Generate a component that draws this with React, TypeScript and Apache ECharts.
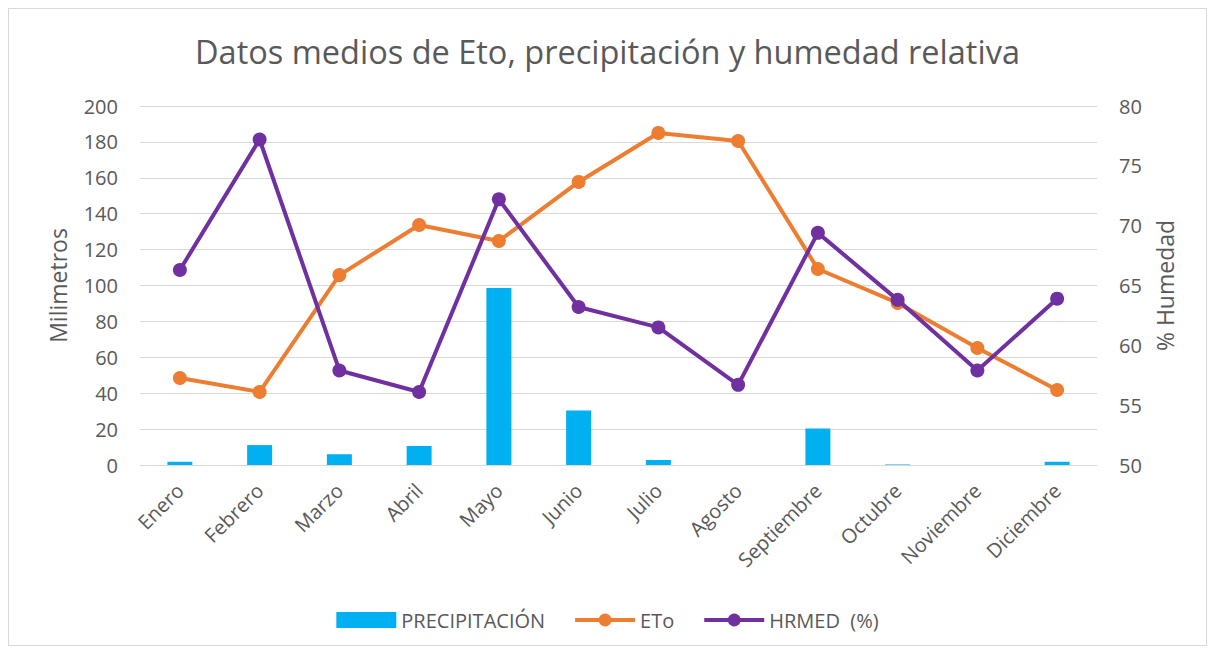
import React, { useEffect, useRef } from "react";
import * as echarts from "echarts";

const months = ["Enero", "Febrero", "Marzo", "Abril", "Mayo", "Junio", "Julio", "Agosto", "Septiembre", "Octubre", "Noviembre", "Diciembre"];
const precipitacion = [1.8, 11.1, 6.0, 10.6, 98.6, 30.4, 2.8, 0, 20.4, 0.3, 0, 1.8];
const eto = [48.5, 40.7, 105.8, 133.7, 124.8, 157.7, 185, 180.5, 109.2, 90.3, 65.2, 41.8];
const hrmed = [66.3, 77.2, 57.9, 56.1, 72.2, 63.2, 61.5, 56.7, 69.4, 63.8, 57.9, 63.9];
const leftTicks = { min: 0, max: 200, interval: 20 };
const rightTicks = { min: 50, max: 80, interval: 5 };

const FONT = "'Open Sans', 'Noto Sans', sans-serif";
const TXT = "#595959";

export default function App() {
  const ref = useRef<HTMLDivElement>(null);
  useEffect(() => {
    if (!ref.current) return;
    const chart = echarts.init(ref.current, null, { renderer: "svg" });
    chart.setOption({
      animation: false,
      backgroundColor: "#fff",
      textStyle: { fontFamily: FONT },
      title: {
        text: "Datos medios de Eto, precipitación y humedad relativa",
        left: "center",
        top: 21,
        textStyle: { fontSize: 32.5, fontWeight: "normal", color: TXT, fontFamily: FONT },
      },
      legend: {
        bottom: 10,
        left: "center",
        itemGap: 28,
        itemWidth: 60,
        itemHeight: 16,
        lineStyle: { width: 4 },
        textStyle: { fontSize: 20, color: TXT, fontFamily: FONT },
        data: [
          { name: "PRECIPITACIÓN", icon: "rect", itemStyle: { color: "#00B0F0" } },
          { name: "ETo" },
          { name: "HRMED  (%)" },
        ],
      },
      grid: { left: 131, right: 109, top: 97, bottom: 180 },
      xAxis: {
        type: "category",
        data: months,
        axisLine: { lineStyle: { color: "#D9D9D9", width: 1 } },
        axisTick: { show: false },
        axisLabel: { rotate: 45, fontSize: 20, color: TXT, margin: 22, fontFamily: FONT },
      },
      yAxis: [
        {
          type: "value",
          ...leftTicks,
          name: "Milimetros",
          nameLocation: "middle",
          nameRotate: 90,
          nameGap: 71,
          nameTextStyle: { fontSize: 23, color: TXT, fontFamily: FONT },
          axisLine: { show: false },
          axisTick: { show: false },
          axisLabel: { fontSize: 20, color: TXT, margin: 22, fontFamily: FONT },
          splitLine: { lineStyle: { color: "#D9D9D9", width: 1 } },
        },
        {
          type: "value",
          ...rightTicks,
          position: "right",
          name: "% Humedad",
          nameLocation: "middle",
          nameRotate: 90,
          nameGap: 56,
          nameTextStyle: { fontSize: 23, color: TXT, fontFamily: FONT },
          axisLine: { show: false },
          axisTick: { show: false },
          axisLabel: { fontSize: 20, color: TXT, margin: 22, fontFamily: FONT },
          splitLine: { show: false },
        },
      ],
      series: [
        {
          name: "PRECIPITACIÓN",
          type: "bar",
          data: precipitacion,
          barWidth: 25,
          itemStyle: { color: "#00B0F0" },
          yAxisIndex: 0,
          z: 1,
        },
        {
          name: "ETo",
          type: "line",
          data: eto,
          yAxisIndex: 0,
          symbol: "circle",
          symbolSize: 14,
          lineStyle: { color: "#ED7D31", width: 4 },
          itemStyle: { color: "#ED7D31" },
          z: 3,
        },
        {
          name: "HRMED  (%)",
          type: "line",
          data: hrmed,
          yAxisIndex: 1,
          symbol: "circle",
          symbolSize: 14,
          lineStyle: { color: "#7030A0", width: 4 },
          itemStyle: { color: "#7030A0" },
          z: 4,
        },
      ],
    });
    return () => chart.dispose();
  }, []);
  return (
    <div style={{ width: 1199, height: 638, border: "1px solid #D9D9D9", boxSizing: "border-box", background: "#fff" }}>
      <div ref={ref} style={{ width: 1197, height: 636 }} />
    </div>
  );
}
